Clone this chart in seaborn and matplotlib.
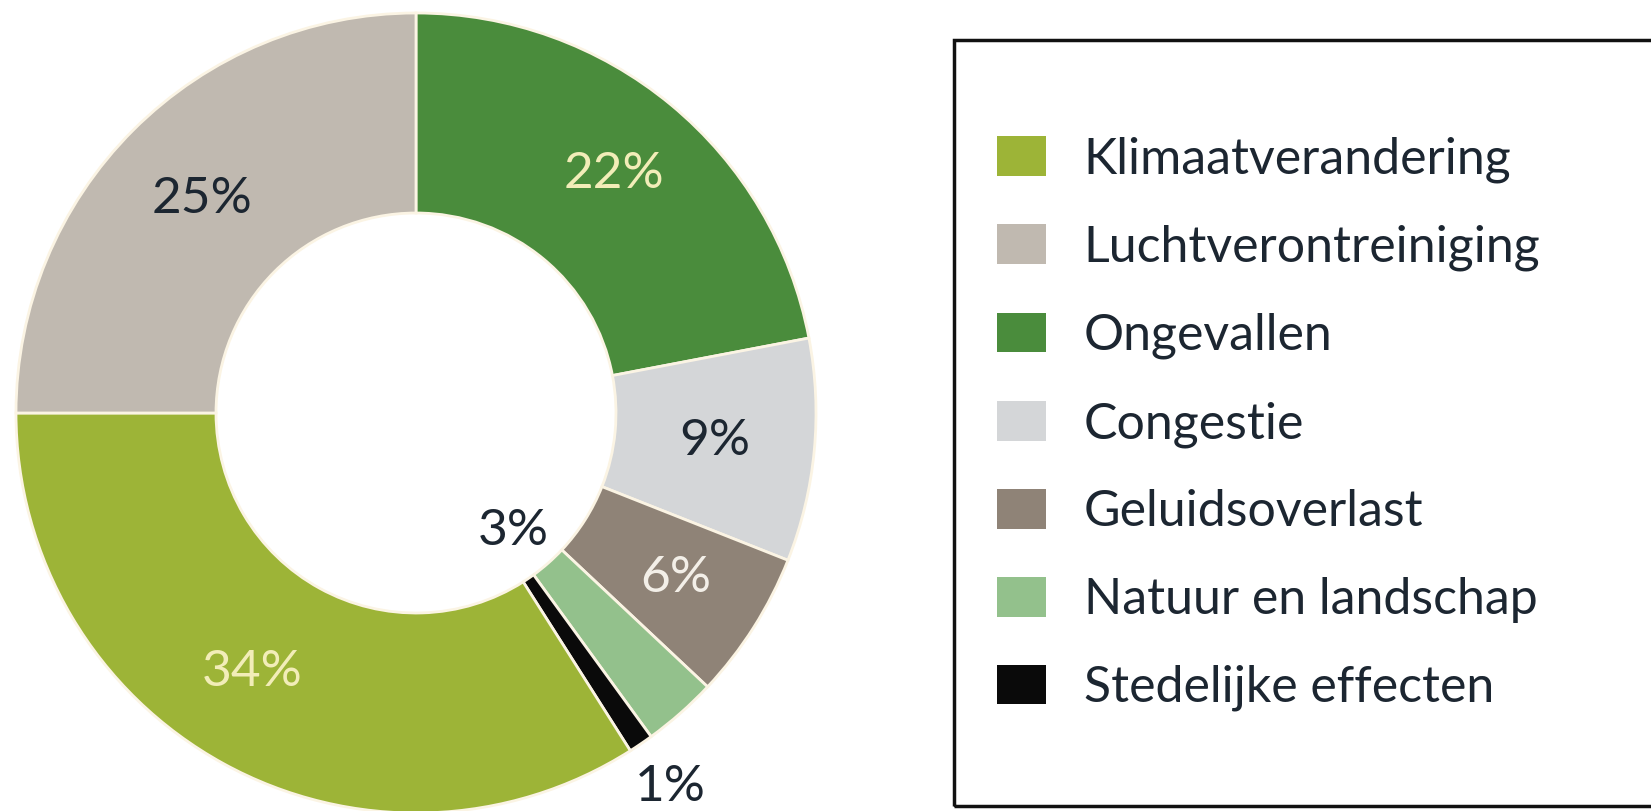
import matplotlib
matplotlib.use("Agg")
import matplotlib.pyplot as plt
from matplotlib.patches import Patch, Rectangle
import seaborn as sns
import numpy as np

# ---- data ----
categories = ["Ongevallen", "Congestie", "Geluidsoverlast", "Natuur en landschap",
              "Stedelijke effecten", "Klimaatverandering", "Luchtverontreiniging"]
values = [22, 9, 6, 3, 1, 34, 25]
labels = ["22%", "9%", "6%", "3%", "1%", "34%", "25%"]
colors = ["#4a8c3c", "#d4d6d8", "#8f8377", "#93c18c", "#0a0a0a", "#9db437", "#c0b9b0"]
legend_order = ["Klimaatverandering", "Luchtverontreiniging", "Ongevallen", "Congestie",
                "Geluidsoverlast", "Natuur en landschap", "Stedelijke effecten"]
label_colors = ["#f2edb8", "#1c2631", "#f3efe8", "#1c2631", "#1c2631", "#f2edb8", "#1c2631"]
label_radius = [0.775, 0.75, 0.77, 0.383, 1.13, 0.765, 0.755]
label_angle_offset = [0, 0, 0, -2, 0, -3.5, 0]

sns.set_theme(style="white")
plt.rcParams["font.family"] = ["Lato", "DejaVu Sans"]

W, H = 1651, 811
fig = plt.figure(figsize=(W / 100, H / 100), dpi=100)
fig.patch.set_facecolor("white")

cx, cy, R = 416, 413, 400   # pixel centre (from top) and radius
ax = fig.add_axes([(cx - R) / W, (H - cy - R) / H, 2 * R / W, 2 * R / H])
palette = sns.color_palette(colors)
wedges, _ = ax.pie(values, colors=palette, startangle=90, counterclock=False,
                   radius=1.0,
                   wedgeprops=dict(width=0.5, edgecolor="#fbf4e4", linewidth=2))
ax.set_xlim(-1, 1)
ax.set_ylim(-1, 1)
ax.axis("off")

for w, lab, col, r, off in zip(wedges, labels, label_colors, label_radius, label_angle_offset):
    ang = np.deg2rad((w.theta1 + w.theta2) / 2 + off)
    ax.text(r * np.cos(ang), r * np.sin(ang), lab, ha="center", va="center",
            fontsize=37, color=col, clip_on=False)

# legend
cmap = dict(zip(categories, colors))
handles = [Patch(facecolor=cmap[c], edgecolor="none", label=c) for c in legend_order]
leg = fig.legend(handles=handles, loc="upper left",
                 bbox_to_anchor=(997 / W, 1 - 136 / H),
                 frameon=False, fontsize=36, handlelength=0.98, handleheight=0.85,
                 handletextpad=0.75, labelspacing=0.83, borderpad=0, borderaxespad=0)
for t in leg.get_texts():
    t.set_color("#1c2631")

fig.patches.append(Rectangle((954 / W, 1 - 806 / H), (W + 20 - 954) / W, (806 - 40) / H,
                             transform=fig.transFigure, fill=False,
                             edgecolor="#111111", linewidth=2.5))

fig.savefig("out.png", dpi=100, facecolor="white")
